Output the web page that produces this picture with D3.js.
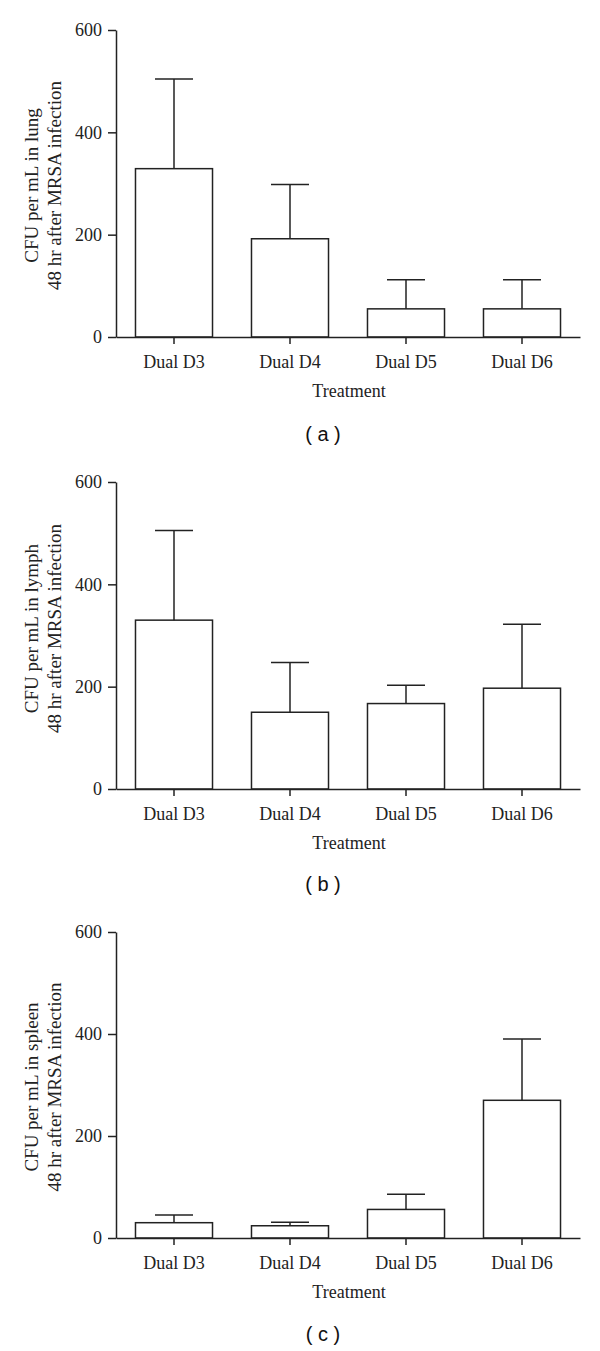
<!DOCTYPE html>
<html><head><meta charset="utf-8">
<script src="https://cdn.jsdelivr.net/npm/d3@7"></script>
<style>body{margin:0;background:#fff}svg{display:block}</style>
</head><body>
<svg id="chart" width="600" height="1351"></svg>
<script>
const categories = ["Dual D3", "Dual D4", "Dual D5", "Dual D6"];
const yTicks = [0, 200, 400, 600];
const lungMean = [329, 192, 55, 55];
const lungErr = [504, 298, 112, 112];
const lymphMean = [330, 150, 167, 197];
const lymphErr = [505, 247, 203, 322];
const spleenMean = [30, 24, 56, 270];
const spleenErr = [45, 31, 86, 390];
const yTitles = [
  ["CFU per mL in lung", "48 hr after MRSA infection"],
  ["CFU per mL in lymph", "48 hr after MRSA infection"],
  ["CFU per mL in spleen", "48 hr after MRSA infection"]
];
const captions = ["( a )", "( b )", "( c )"];
const xTitle = "Treatment";

const svg = d3.select("#chart");
const ink = "#222";
const serif = "'Liberation Serif', 'DejaVu Serif', serif";

const panels = [
  {mean: lungMean, err: lungErr, top: 30, bottom: 337, cap: 441, tOff: 2},
  {mean: lymphMean, err: lymphErr, top: 482, bottom: 789, cap: 891, tOff: -7},
  {mean: spleenMean, err: spleenErr, top: 932, bottom: 1238, cap: 1341, tOff: 2}
];

const left = 116, right = 580;

panels.forEach((p, i) => {
  const g = svg.append("g");
  const x = d3.scaleBand().domain(categories).range([left, right]).paddingInner(0.336).paddingOuter(0.168);
  const y = d3.scaleLinear().domain([0, 600]).range([p.bottom, p.top]);

  g.selectAll("rect.bar").data(categories).join("rect")
    .attr("x", d => x(d)).attr("width", x.bandwidth())
    .attr("y", (d, k) => y(p.mean[k])).attr("height", (d, k) => y(0) - y(p.mean[k]))
    .attr("fill", "#fff").attr("stroke", ink).attr("stroke-width", 1.5);

  const cx = d => x(d) + x.bandwidth() / 2;
  g.selectAll("line.err").data(categories).join("line")
    .attr("x1", cx).attr("x2", cx)
    .attr("y1", (d, k) => y(p.mean[k])).attr("y2", (d, k) => y(p.err[k]))
    .attr("stroke", ink).attr("stroke-width", 1.5);
  g.selectAll("line.cap").data(categories).join("line")
    .attr("x1", d => cx(d) - 19).attr("x2", d => cx(d) + 19)
    .attr("y1", (d, k) => y(p.err[k])).attr("y2", (d, k) => y(p.err[k]))
    .attr("stroke", ink).attr("stroke-width", 1.5);

  const ya = g.append("g").attr("transform", `translate(${left},0)`)
    .call(d3.axisLeft(y).tickValues(yTicks).tickSize(8).tickPadding(6).tickSizeOuter(0));
  ya.attr("font-family", null).attr("font-size", null);
  ya.select(".domain").attr("stroke", ink).attr("stroke-width", 1.5);
  ya.selectAll(".tick line").attr("stroke", ink).attr("stroke-width", 1.5);
  ya.selectAll(".tick text").style("font-family", serif).style("font-size", "18px").attr("fill", ink);

  const xa = g.append("g").attr("transform", `translate(0,${p.bottom})`)
    .call(d3.axisBottom(x).tickSize(7).tickPadding(11).tickSizeOuter(0));
  xa.attr("font-family", null).attr("font-size", null);
  xa.select(".domain").attr("stroke", ink).attr("stroke-width", 1.5);
  xa.selectAll(".tick line").attr("stroke", ink).attr("stroke-width", 1.5);
  xa.selectAll(".tick text").style("font-family", serif).style("font-size", "18px").attr("fill", ink);

  g.append("text").attr("x", (left + right) / 2 + 1).attr("y", p.bottom + 60)
    .attr("text-anchor", "middle").style("font-family", serif).style("font-size", "18px")
    .attr("fill", ink).text(xTitle);

  const cy = (p.top + p.bottom) / 2 + p.tOff;
  const yt = g.append("text").attr("transform", `translate(38,${cy}) rotate(-90)`)
    .attr("text-anchor", "middle").style("font-family", serif).style("font-size", "19px").attr("fill", ink);
  yt.append("tspan").attr("x", 0).attr("dy", 0).text(yTitles[i][0]);
  yt.append("tspan").attr("x", 0).attr("dy", 23).text(yTitles[i][1]);

  g.append("text").attr("x", 323).attr("y", p.cap).attr("text-anchor", "middle")
    .style("font-family", "'Liberation Sans', Arial, sans-serif").style("font-size", "20px")
    .attr("fill", "#111").text(captions[i]);
});
</script>
</body></html>
